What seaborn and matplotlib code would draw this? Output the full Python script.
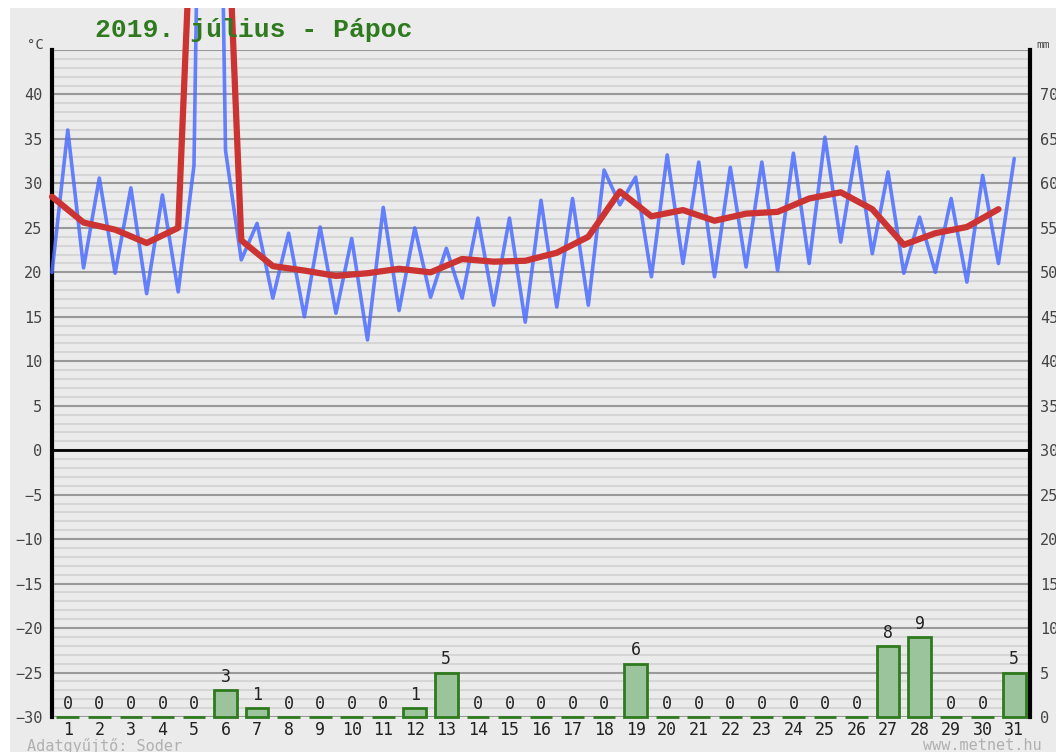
import numpy as np
import pandas as pd
import seaborn as sns
import matplotlib
matplotlib.use('Agg')
import matplotlib.pyplot as plt
from matplotlib.patches import Rectangle

# Napi adatok, 2019. július, Pápoc
days = list(range(1, 32))
tmin = [20, 20.5, 19.9, 17.6, 17.8, 150, 21.4, 17.1, 15, 15.4, 12.4, 15.7, 17.2, 17.1, 16.3, 14.4,
        16.1, 16.3, 27.6, 19.5, 21, 19.5, 20.6, 20.2, 21, 23.4, 22.1, 19.9, 20, 18.9, 21]
tmax = [36, 30.6, 29.5, 28.7, 32, 33.7, 25.5, 24.4, 25.1, 23.8, 27.3, 25, 22.7, 26.1, 26.1, 28.1,
        28.3, 31.5, 30.7, 33.2, 32.4, 31.8, 32.4, 33.4, 35.2, 34.1, 31.3, 26.2, 28.3, 30.9, 32.8]
tmean = [28.5, 25.6, 24.8, 23.3, 25, 110, 23.6, 20.7, 20.2, 19.6, 19.9, 20.4, 20.0, 21.5, 21.2, 21.3,
         22.2, 24.0, 29.1, 26.3, 27.0, 25.8, 26.6, 26.8, 28.3, 29.0, 27.1, 23.1, 24.4, 25.1, 27.1]
precip = [0, 0, 0, 0, 0, 3, 1, 0, 0, 0, 0, 1, 5, 0, 0, 0, 0, 0, 6, 0, 0, 0, 0, 0, 0, 0, 8, 9, 0, 0, 5]

title = '2019. július - Pápoc'
left_ticks = list(range(-30, 41, 5))
right_ticks = list(range(0, 71, 5))

# min at day-0.5, max at day -> zigzag line
temp = pd.DataFrame({
    'x': np.ravel(np.column_stack([np.array(days) - 0.5, days])),
    'temp': np.ravel(np.column_stack([tmin, tmax])),
})
mean = pd.DataFrame({'x': np.array(days) - 0.5, 'temp': tmean})
rain = pd.DataFrame({'day': days, 'mm': precip})

bg = '#ebebeb'
sns.set_theme(style='white')
plt.rcParams['font.family'] = ['DejaVu Sans Mono', 'DejaVu Sans']

fig = plt.figure(figsize=(10.56, 7.52), dpi=100, facecolor=bg)
fig.patches.append(Rectangle((0, 1 - 8 / 752), 1, 8 / 752, transform=fig.transFigure,
                             facecolor='white', edgecolor='none', zorder=0))
fig.patches.append(Rectangle((0, 0), 10 / 1056, 1, transform=fig.transFigure,
                             facecolor='white', edgecolor='none', zorder=0))

ax = fig.add_axes([52 / 1056, 35 / 752, 978 / 1056, 667 / 752])
ax.set_facecolor(bg)
ax.set_ylim(-30, 45)
ax.set_yticks(np.arange(-30, 46, 1), minor=True)
ax.set_yticks(np.arange(-30, 46, 5))
ax.set_yticklabels([str(t).replace('-', '\u2212') for t in left_ticks] + [''])
ax.grid(axis='y', which='minor', color='#d6d6d6', lw=1.5)
ax.grid(axis='y', which='major', color='#999999', lw=1.5)
ax.axhline(0, color='black', lw=2, zorder=1.5)
ax.tick_params(axis='y', which='both', length=0, pad=7, labelsize=11, labelcolor='#444444')
ax.tick_params(axis='x', length=0, pad=3, labelsize=12, labelcolor='#222222')
for s in ['top', 'bottom', 'right']:
    ax.spines[s].set_visible(False)
ax.spines['left'].set_color('black')
ax.spines['left'].set_linewidth(3)

sns.lineplot(data=temp, x='x', y='temp', ax=ax, color='#4d6dff', lw=2.6, alpha=0.85,
             estimator=None, sort=False, clip_on=False, zorder=3)
sns.lineplot(data=mean, x='x', y='temp', ax=ax, color='#cc3333', lw=4.5,
             estimator=None, sort=False, clip_on=False, zorder=4)

ax2 = ax.twinx()
ax2.set_ylim(0, 75)
ax2.set_yticks(right_ticks)
ax2.tick_params(axis='y', length=0, pad=7, labelsize=11, labelcolor='#444444')
sns.barplot(data=rain, x='day', y='mm', ax=ax2, native_scale=True, width=0.72,
            color='#9cc49c', edgecolor='#2f7a1f', linewidth=2, saturation=1, errorbar=None)
for c in ax2.containers:
    for p in c:
        p.set_clip_on(False)
    ax2.bar_label(c, fmt='%d', padding=3, fontsize=12, color='#222222')
for s in ['top', 'bottom', 'left']:
    ax2.spines[s].set_visible(False)
ax2.spines['right'].set_color('black')
ax2.spines['right'].set_linewidth(3)
ax2.set_ylabel('')
ax2.set_xlabel('')

ax.set_xlim(0.5, 31.5)
ax2.set_xlim(0.5, 31.5)
ax.set_xticks(days)
ax.set_xticklabels([str(d) for d in days])
ax2.tick_params(axis='x', length=0, labelbottom=False)
ax.set_xlabel('')
ax.set_ylabel('')

fig.text(95 / 1056, 1 - 30 / 752, title, family='Liberation Mono', weight='bold',
         fontsize=19, color='#2f7a1f', va='center', ha='left', zorder=10)
fig.text(35 / 1056, 1 - 45 / 752, '°C', fontsize=10, color='#444444', va='center', ha='center')
fig.text(1036 / 1056, 1 - 45 / 752, 'mm', fontsize=8, color='#444444', va='center', ha='left')
fig.text(27 / 1056, 1 - 746 / 752, 'Adatgyűjtő: Soder', fontsize=11, color='#b0b0b0',
         va='center', ha='left')
fig.text(1042 / 1056, 1 - 746 / 752, 'www.metnet.hu', fontsize=11, color='#b0b0b0',
         va='center', ha='right')

fig.savefig('out.png', dpi=100, facecolor=bg)
